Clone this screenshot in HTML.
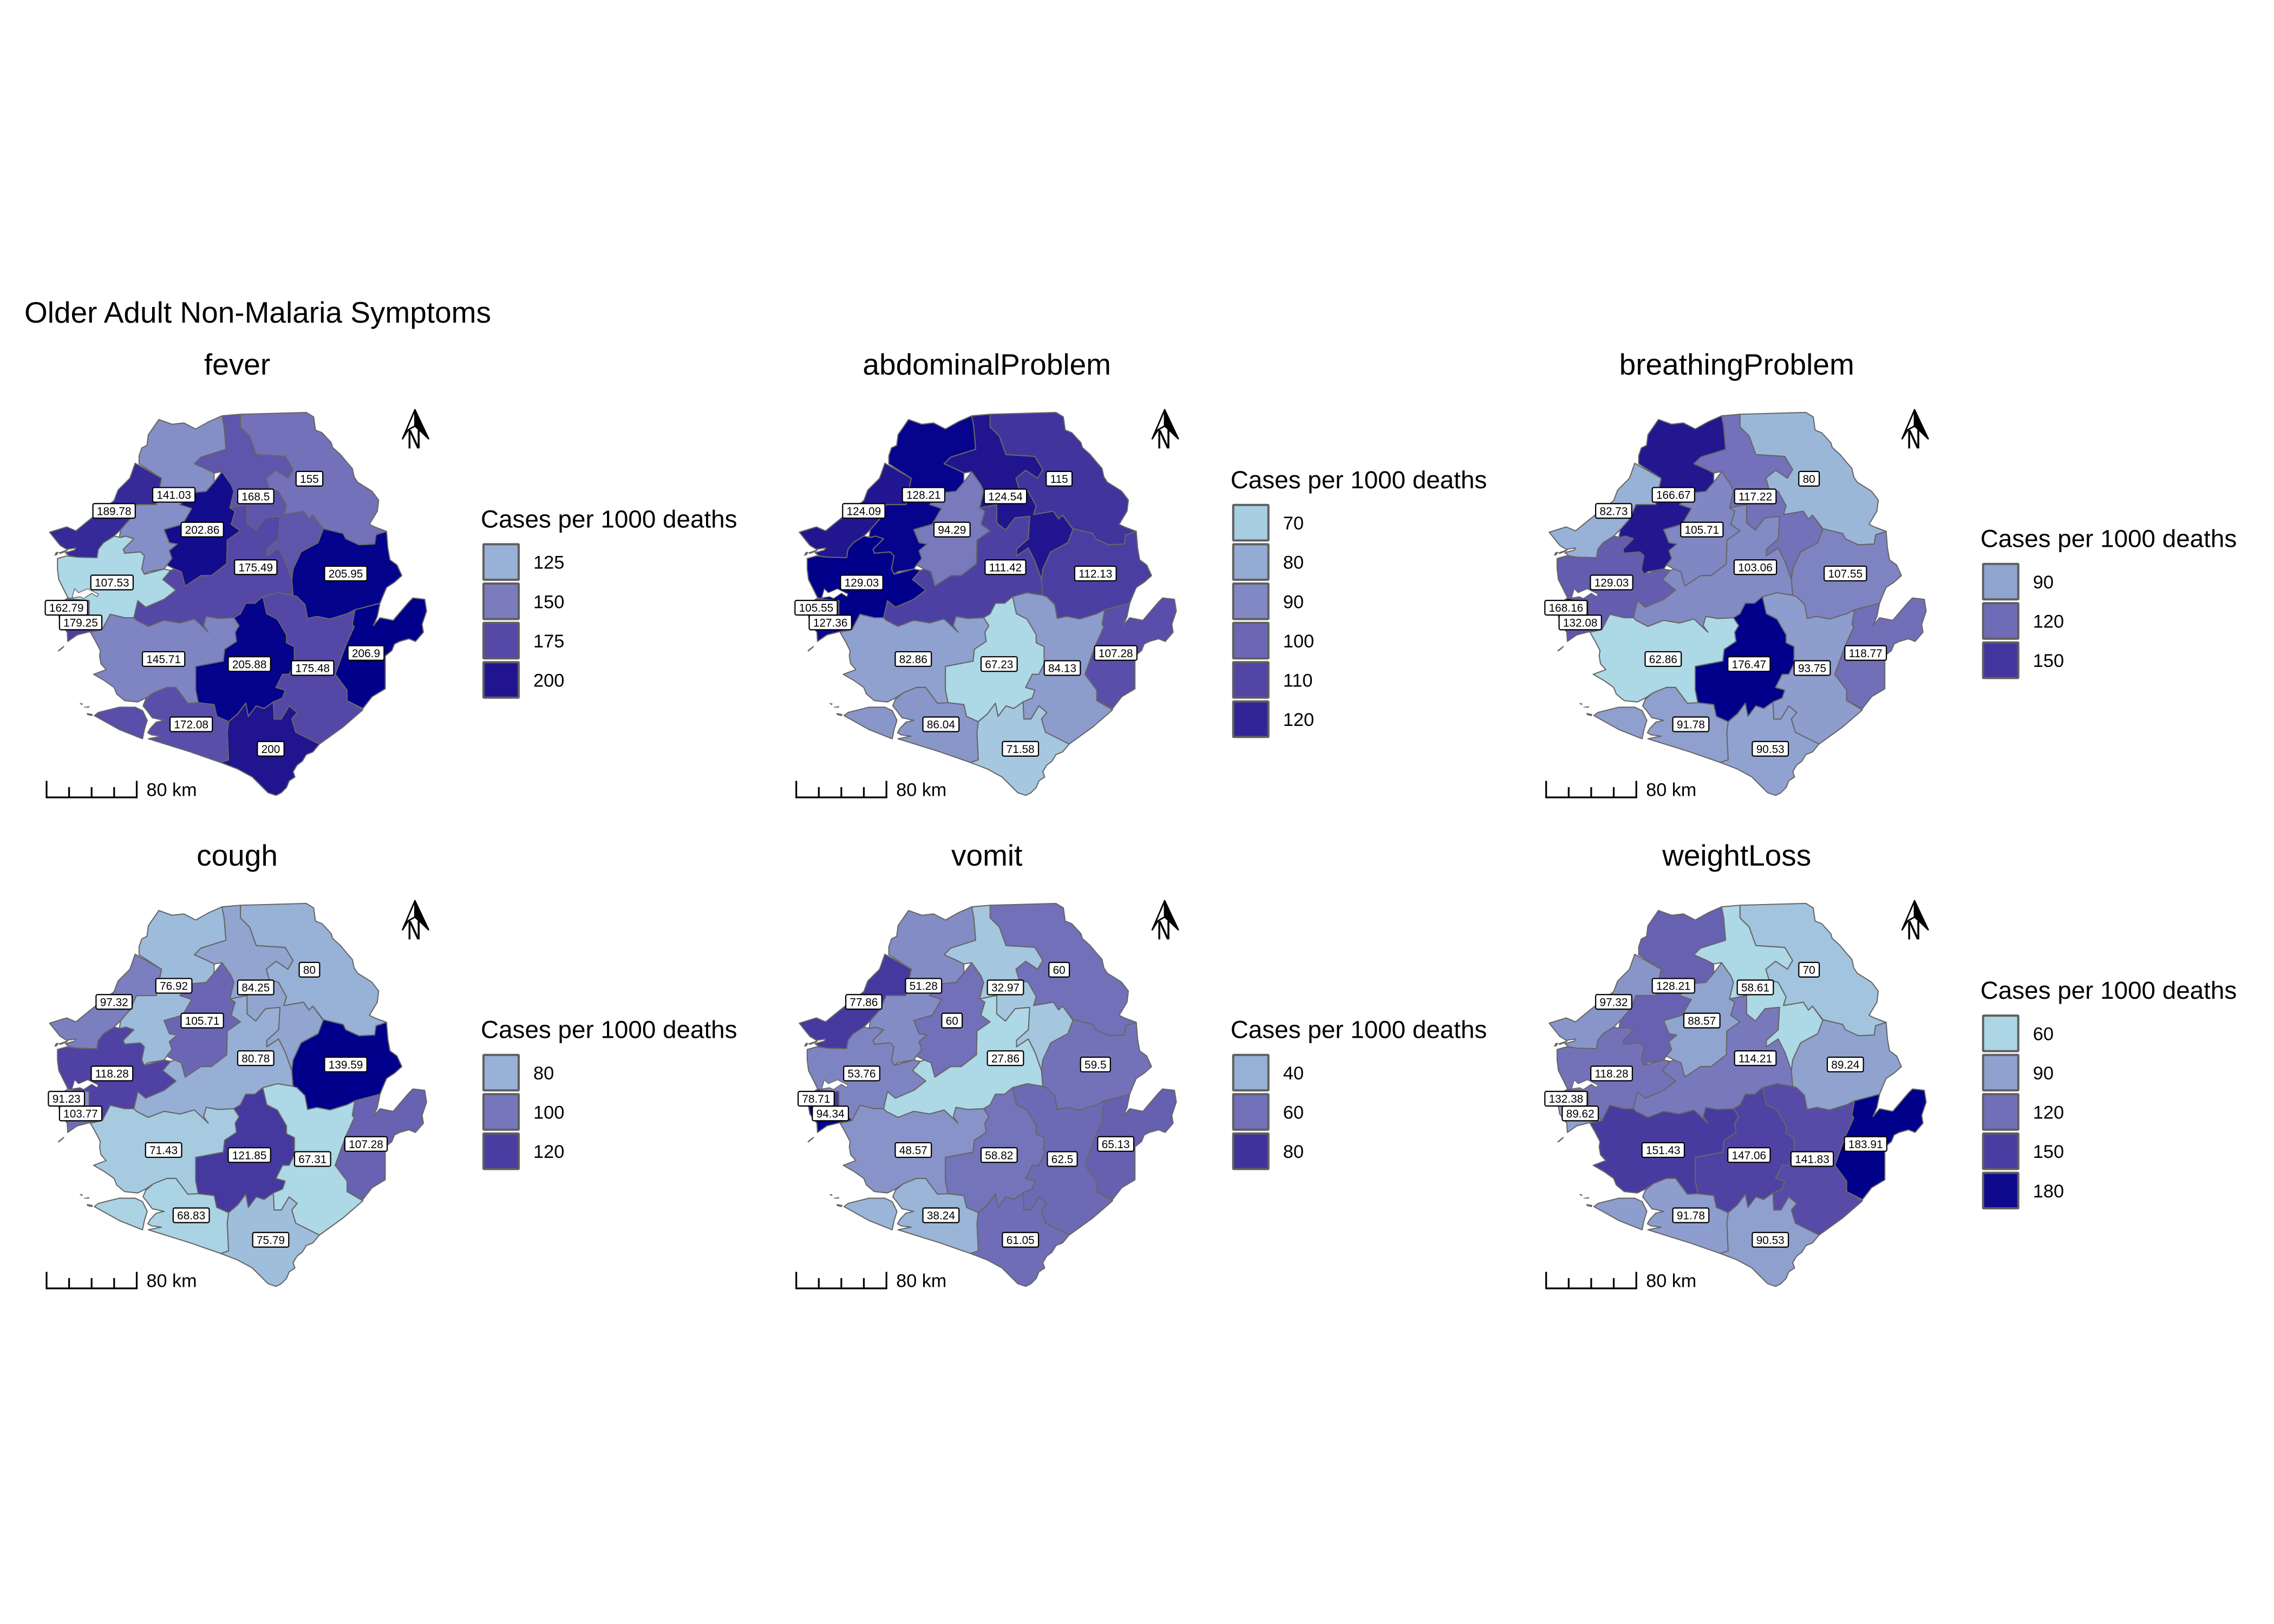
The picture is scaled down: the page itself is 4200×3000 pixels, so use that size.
<!DOCTYPE html>
<html lang="en">
<head>
<meta charset="utf-8">
<title>Older Adult Non-Malaria Symptoms</title>
<style>
html,body{margin:0;padding:0;background:#fff;}
svg{display:block;}
text{font-family:"Liberation Sans",Arial,sans-serif;fill:#000;}
</style>
</head>
<body>
<svg id="figure" xmlns="http://www.w3.org/2000/svg" width="4200" height="3000" viewBox="0 0 4200 3000">
<rect x="0" y="0" width="4200" height="3000" fill="#ffffff"/>
<text x="45" y="596" font-size="55">Older Adult Non-Malaria Symptoms</text>
</svg>
<script>
// ---- data: one value per district, in districtNames order ----
const districtNames = ['karene','kambia','bombali','koinadugu','falaba','tonkolili','kono','port-loko','western-urban','western-rural','moyamba','bo','kenema','kailahun','bonthe','pujehun'];
const panelTitles = ['fever','abdominalProblem','breathingProblem','cough','vomit','weightLoss'];
const feverValues = [141.03,189.78,202.86,168.5,155,175.49,205.95,107.53,162.79,179.25,145.71,205.88,175.48,206.9,172.08,200];
const abdominalValues = [128.21,124.09,94.29,124.54,115,111.42,112.13,129.03,105.55,127.36,82.86,67.23,84.13,107.28,86.04,71.58];
const breathingValues = [166.67,82.73,105.71,117.22,80,103.06,107.55,129.03,168.16,132.08,62.86,176.47,93.75,118.77,91.78,90.53];
const coughValues = [76.92,97.32,105.71,84.25,80,80.78,139.59,118.28,91.23,103.77,71.43,121.85,67.31,107.28,68.83,75.79];
const vomitValues = [51.28,77.86,60,32.97,60,27.86,59.5,53.76,78.71,94.34,48.57,58.82,62.5,65.13,38.24,61.05];
const weightLossValues = [128.21,97.32,88.57,58.61,70,114.21,89.24,118.28,132.38,89.62,151.43,147.06,141.83,183.91,91.78,90.53];
const feverTicks = [125,150,175,200];
const abdominalTicks = [70,80,90,100,110,120];
const breathingTicks = [90,120,150];
const coughTicks = [80,100,120];
const vomitTicks = [40,60,80];
const weightLossTicks = [60,90,120,150,180];
const legendTitle = 'Cases per 1000 deaths';
const scaleBarLabel = '80 km';

// ---- geography: district outlines and label anchors in map units ----
const outlines = {
 'karene':'M405,210 L415,180 L435,170 L440,130 L480,72 L530,90 L575,85 L620,108 L670,80 L720,58 L728,100 L735,185 L640,215 L615,240 L660,260 L690,275 L690,310 L660,345 L610,350 L560,395 L605,410 L570,470 L500,490 L520,540 L550,545 L520,570 L530,600 L510,625 L500,640 L440,650 L425,660 L415,640 L425,590 L410,575 L350,580 L345,565 L385,525 L355,515 L330,520 L335,490 L370,450 L395,395 L430,395 L470,395 L490,295 L405,240 Z',
 'kambia':'M390,238 L490,295 L470,395 L430,395 L395,395 L370,450 L335,490 L310,515 L270,540 L250,565 L245,597 L170,595 L140,590 L125,578 L160,568 L165,560 L130,565 L105,550 L65,500 L130,480 L165,495 L220,450 L265,415 L310,380 L325,340 L370,295 Z',
 'bombali':'M720,270 L755,320 L765,345 L750,408 L770,420 L755,470 L790,495 L740,530 L738,620 L680,665 L640,665 L580,705 L565,650 L540,640 L510,625 L530,600 L520,570 L550,545 L520,540 L500,490 L570,470 L605,410 L560,395 L610,350 L660,345 L690,310 Z',
 'koinadugu':'M720,58 L790,52 L790,100 L825,135 L850,205 L960,212 L990,262 L970,295 L925,265 L888,295 L900,335 L935,345 L965,400 L955,433 L1030,420 L1050,450 L1065,435 L1105,490 L1085,540 L1020,575 L990,640 L985,680 L960,610 L935,560 L890,590 L890,565 L935,525 L940,440 L885,445 L848,492 L815,465 L815,395 L750,408 L765,345 L755,320 L720,270 L690,275 L660,260 L615,240 L640,215 L735,185 L728,100 Z',
 'falaba':'M790,52 L1040,45 L1068,62 L1075,112 L1100,122 L1112,135 L1135,160 L1140,178 L1170,205 L1195,235 L1215,258 L1222,290 L1235,310 L1275,335 L1290,345 L1315,378 L1310,420 L1295,445 L1280,470 L1300,480 L1345,497 L1305,510 L1300,545 L1240,548 L1190,525 L1180,505 L1105,487 L1065,435 L1050,450 L1030,420 L955,433 L965,400 L935,345 L900,335 L888,295 L925,265 L970,295 L990,262 L960,212 L850,205 L825,135 L790,100 Z',
 'tonkolili':'M750,408 L815,395 L815,465 L848,492 L885,445 L940,440 L935,525 L890,565 L890,590 L935,560 L960,610 L985,680 L990,740 L930,730 L875,745 L845,770 L810,770 L790,810 L765,825 L705,828 L660,820 L650,855 L668,880 L615,830 L560,845 L500,835 L440,858 L395,835 L385,825 L400,760 L430,785 L500,755 L545,720 L495,680 L525,645 L540,640 L565,650 L580,705 L640,665 L680,665 L738,620 L740,530 L790,495 L755,470 L770,420 Z',
 'kono':'M1105,487 L1180,505 L1190,525 L1240,548 L1300,545 L1305,510 L1345,497 L1350,560 L1358,605 L1385,625 L1403,665 L1375,690 L1345,710 L1330,745 L1320,770 L1225,795 L1195,810 L1130,830 L1080,820 L1045,828 L1035,790 L1035,775 L1005,745 L990,740 L985,680 L990,640 L1020,575 L1085,540 Z',
 'port-loko':'M310,515 L335,520 L355,515 L385,525 L345,565 L350,580 L410,575 L425,590 L415,640 L425,660 L500,640 L525,645 L495,680 L545,720 L500,755 L430,785 L400,760 L385,825 L350,825 L295,812 L265,870 L220,870 L215,810 L215,760 L160,755 L135,750 L100,680 L95,640 L95,600 L130,590 L170,595 L245,597 L250,565 L270,540 Z',
 'western-urban':'M135,750 L160,755 L215,760 L215,815 L100,815 L75,790 Z',
 'western-rural':'M100,815 L215,815 L265,870 L218,878 L170,890 L134,915 L132,880 L105,845 Z',
 'moyamba':'M295,812 L350,825 L385,825 L395,835 L440,858 L500,835 L560,845 L615,830 L668,880 L650,855 L660,820 L705,828 L765,825 L785,855 L770,880 L775,915 L730,945 L725,990 L620,1010 L620,1100 L630,1148 L590,1150 L545,1090 L510,1090 L460,1110 L430,1130 L400,1145 L350,1140 L320,1115 L310,1090 L275,1065 L232,1040 L280,1022 L260,1000 L255,970 L258,950 L240,915 L220,880 L265,870 Z',
 'bo':'M810,770 L845,770 L875,745 L890,810 L930,830 L965,890 L965,920 L995,935 L995,1000 L975,1040 L950,1040 L925,1090 L960,1100 L950,1130 L915,1145 L880,1170 L850,1160 L820,1200 L810,1150 L780,1190 L745,1220 L700,1200 L690,1155 L630,1148 L620,1100 L620,1010 L725,990 L730,945 L775,915 L770,880 L785,855 L765,825 L790,810 Z',
 'kenema':'M875,745 L930,730 L990,740 L1005,745 L1035,775 L1045,828 L1080,820 L1130,830 L1195,810 L1225,795 L1215,850 L1222,860 L1190,930 L1150,1040 L1195,1100 L1195,1140 L1255,1175 L1180,1240 L1090,1305 L1000,1260 L985,1210 L1005,1185 L975,1160 L945,1210 L918,1210 L915,1145 L950,1130 L960,1100 L925,1090 L950,1040 L975,1040 L995,1000 L995,935 L965,920 L965,890 L930,830 L890,810 Z',
 'kailahun':'M1225,795 L1320,770 L1310,820 L1295,855 L1320,825 L1370,835 L1430,765 L1445,750 L1490,755 L1497,800 L1480,850 L1485,880 L1455,915 L1430,905 L1395,915 L1375,925 L1365,950 L1340,970 L1340,1095 L1290,1125 L1255,1170 L1195,1140 L1195,1100 L1150,1040 L1190,930 L1222,860 L1215,850 Z',
 'bonthe':'M440,1285 L600,1335 L715,1375 L745,1365 L740,1260 L745,1220 L700,1200 L690,1155 L630,1148 L590,1150 L545,1090 L510,1090 L460,1110 L430,1135 L420,1160 L435,1178 L455,1205 L500,1215 L470,1222 L448,1245 L438,1262 L452,1270 L490,1275 Z M235,1197 L250,1185 L330,1165 L390,1165 L418,1178 L436,1215 L425,1250 L418,1285 L330,1250 Z',
 'pujehun':'M745,1220 L780,1190 L810,1150 L820,1200 L850,1160 L880,1170 L915,1145 L918,1210 L945,1210 L975,1160 L1005,1185 L985,1210 L1000,1260 L1090,1305 L1065,1335 L1040,1345 L1025,1370 L1005,1385 L990,1410 L997,1430 L975,1445 L965,1470 L945,1490 L925,1500 L895,1490 L870,1465 L835,1430 L780,1400 L715,1375 L745,1365 L740,1260 Z'
};
const labelAnchors = {
 'karene':[537,358],'kambia':[310,419],'bombali':[645,490],'koinadugu':[848,364],'falaba':[1052,297],'tonkolili':[848,633],'kono':[1190,657],'port-loko':[302,691],'western-urban':[129,787],'western-rural':[183,843],'moyamba':[498,982],'bo':[824,1001],'kenema':[1064,1016],'kailahun':[1267,959],'bonthe':[603,1230],'pujehun':[905,1323]
};
const waterShapes = ['M150,750 L160,715 L175,730 L210,715 L250,735 L245,745 L225,732 L195,752 L180,745 Z'];
const islandShapes = ['M84,588 L90,576 L98,576 L93,586 Z','M100,578 L135,566 L130,572 L105,582 Z','M97,950 L120,932 L117,938 L100,952 Z','M180,1150 L190,1152 L188,1156 Z','M195,1165 L216,1162 L213,1166 Z','M207,1188 L228,1192 L226,1198 L209,1194 Z'];
const rampStops = [[0,[173,216,230]],[0.176,[152,177,214]],[0.427,[122,124,190]],[0.678,[85,72,166]],[0.93,[32,20,143]],[1,[0,0,139]]];

// ---- layout ----
const panelColumnX = [0, 1384.7, 2769.7];
const panelRowY = [0, 907];
const mapScale = 0.4862;
const svgNS = 'http://www.w3.org/2000/svg';
const figure = document.getElementById('figure');

function make(tag, attrs, parent) {
  const el = document.createElementNS(svgNS, tag);
  for (const k in attrs) el.setAttribute(k, attrs[k]);
  parent.appendChild(el);
  return el;
}
function colorScale(v, lo, hi) {
  const t = Math.max(0, Math.min(1, (v - lo) / (hi - lo)));
  for (let i = 1; i < rampStops.length; i++) {
    if (t <= rampStops[i][0]) {
      const a = rampStops[i - 1], b = rampStops[i];
      const f = (t - a[0]) / (b[0] - a[0]);
      const c = a[1].map((x, j) => Math.round(x + (b[1][j] - x) * f));
      return 'rgb(' + c.join(',') + ')';
    }
  }
  return 'rgb(0,0,139)';
}
function mapX(ox, u) { return ox + 60 + u * mapScale; }
function mapY(oy, u) { return oy + 740 + u * mapScale; }

function drawPanel(title, values, ticks, column, row) {
  const ox = panelColumnX[column], oy = panelRowY[row];
  const lo = Math.min.apply(null, values), hi = Math.max.apply(null, values);

  const panel = make('g', {}, figure);
  
  

  const heading = make('text', {x: ox + 438, y: oy + 692, 'font-size': 55, 'text-anchor': 'middle'}, panel);
  heading.textContent = title;
  
  

  const map = make('g', {transform: 'translate(' + mapX(ox, 0) + ' ' + mapY(oy, 0) + ') scale(' + mapScale + ')'}, panel);
  
  

  districtNames.forEach(function (name, i) {
    const region = make('path', {d: outlines[name], fill: colorScale(values[i], lo, hi), stroke: '#666666', 'stroke-width': 4.2, 'stroke-linejoin': 'round'}, map);
    
    
  });
  waterShapes.forEach(function (d) {
    const water = make('path', {d: d, fill: '#ffffff', stroke: '#666666', 'stroke-width': 3}, map);
    
    
  });
  islandShapes.forEach(function (d) {
    const isle = make('path', {d: d, fill: '#666666', stroke: '#666666', 'stroke-width': 2}, map);
    
    
  });

  districtNames.forEach(function (name, i) {
    const cx = mapX(ox, labelAnchors[name][0]), cy = mapY(oy, labelAnchors[name][1]);
    const box = make('rect', {y: cy - 13.5, height: 27, rx: 3, fill: '#ffffff', stroke: '#000000', 'stroke-width': 2.2}, panel);
    
    
    const txt = make('text', {x: cx, y: cy + 7.6, 'font-size': 20.8, 'text-anchor': 'middle'}, panel);
    txt.textContent = String(values[i]);
    
    
    const w = txt.getComputedTextLength() + 14.6;
    box.setAttribute('x', cx - w / 2);
    box.setAttribute('width', w);
  });

  // north arrow
  const arrow = make('g', {}, panel);
  
  
  make('path', {d: 'M' + (ox + 766.4) + ',' + (oy + 757) + ' L' + (ox + 743.5) + ',' + (oy + 810.5) + ' L' + (ox + 754) + ',' + (oy + 794) + ' L' + (ox + 766.4) + ',' + (oy + 787) + ' Z', fill: '#ffffff', stroke: '#000', 'stroke-width': 2.8, 'stroke-linejoin': 'round'}, arrow);
  make('path', {d: 'M' + (ox + 766.4) + ',' + (oy + 757) + ' L' + (ox + 791.5) + ',' + (oy + 810.5) + ' L' + (ox + 778.5) + ',' + (oy + 798) + ' L' + (ox + 766.4) + ',' + (oy + 787) + ' Z', fill: '#000', stroke: '#000', 'stroke-width': 2.8, 'stroke-linejoin': 'round'}, arrow);
  const north = make('text', {transform: 'translate(' + (ox + 752) + ' ' + (oy + 828) + ') scale(0.74 1)', 'font-size': 48, stroke: '#000', 'stroke-width': 0.8}, arrow);
  north.textContent = 'N';
  
  

  // scale bar
  const bar = make('g', {stroke: '#000', 'stroke-width': 3.2, fill: 'none'}, panel);
  
  
  const barY = oy + 1473;
  make('path', {d: 'M' + (ox + 86) + ',' + (oy + 1442.5) + ' V' + barY + ' H' + (ox + 252.5) + ' V' + (oy + 1442.5)}, bar);
  [127.6, 169.2, 210.8].forEach(function (tx) {
    make('path', {d: 'M' + (ox + tx) + ',' + (oy + 1454) + ' V' + barY}, bar);
  });
  const barText = make('text', {x: ox + 270.5, y: oy + 1470.7, 'font-size': 34.2}, panel);
  barText.textContent = scaleBarLabel;
  
  

  // legend, vertically centred on the panel
  const pitch = 72.6;
  const titleBase = oy + 974.4 - (ticks.length - 4) * pitch / 2;
  const legend = make('g', {}, panel);
  
  
  const legendHead = make('text', {x: ox + 888, y: titleBase, 'font-size': 45.8}, legend);
  legendHead.textContent = legendTitle;
  
  
  ticks.forEach(function (tick, k) {
    const top = titleBase + 29 + k * pitch;
    const swatch = make('rect', {x: ox + 893, y: top + 2, width: 65, height: 65.6, rx: 1, fill: colorScale(tick, lo, hi), stroke: '#5f5f5f', 'stroke-width': 4}, legend);
    
    
    const lab = make('text', {x: ox + 985, y: top + 47.3, 'font-size': 34.4}, legend);
    lab.textContent = String(tick);
    
    
  });
}

drawPanel(panelTitles[0], feverValues, feverTicks, 0, 0);
drawPanel(panelTitles[1], abdominalValues, abdominalTicks, 1, 0);
drawPanel(panelTitles[2], breathingValues, breathingTicks, 2, 0);
drawPanel(panelTitles[3], coughValues, coughTicks, 0, 1);
drawPanel(panelTitles[4], vomitValues, vomitTicks, 1, 1);
drawPanel(panelTitles[5], weightLossValues, weightLossTicks, 2, 1);
</script>
</body>
</html>
